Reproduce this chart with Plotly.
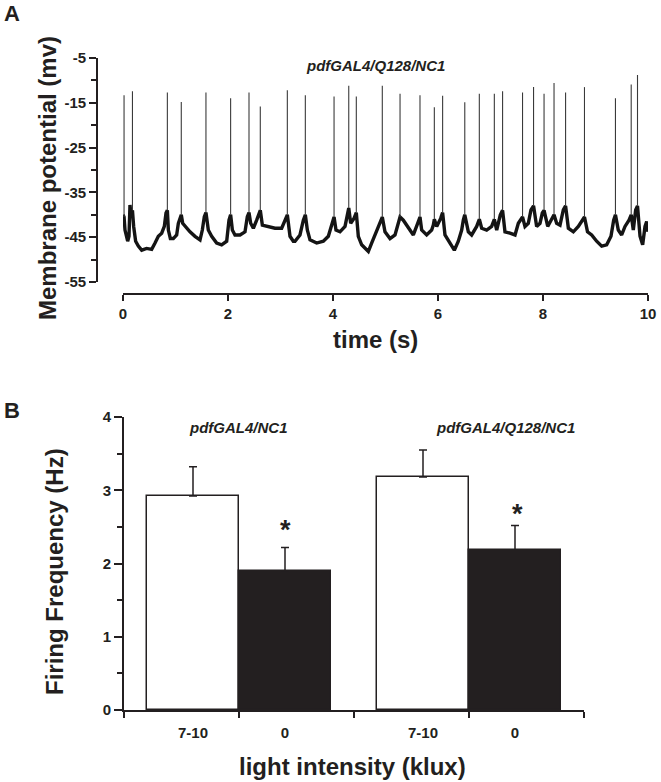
import plotly.graph_objects as go

W, H = 661, 782
FONT = "Arial, Liberation Sans, sans-serif"
INK = "#231f20"

# ---------------- Panel A : membrane potential trace ----------------
spike_t = [0.02, 0.18, 0.845, 1.11, 1.58, 2.05, 2.40, 2.615, 3.13, 3.473,
           4.02, 4.30, 4.444, 4.939, 5.277, 5.657, 5.93, 6.088, 6.51, 6.787,
           7.073, 7.23, 7.61, 7.82, 8.02, 8.21, 8.43, 8.79, 9.38, 9.68, 9.80]
spike_peak = [-13.3, -12.4, -12.7, -14.8, -12.7, -14.0, -12.7, -15.8, -12.2, -13.3,
              -13.6, -11.2, -13.6, -11.2, -13.0, -13.3, -16.0, -13.4, -14.9, -13.0,
              -13.0, -12.4, -12.7, -11.5, -13.0, -10.6, -12.7, -11.5, -14.0, -10.9, -8.8]
spike_foot = [-40.5, -39.0, -39.0, -40.0, -39.5, -40.0, -39.5, -39.0, -40.0, -40.0,
              -40.5, -38.5, -39.5, -40.5, -40.5, -40.5, -41.0, -39.5, -40.0, -41.0,
              -41.0, -39.0, -40.5, -38.0, -39.0, -40.0, -38.0, -40.5, -40.0, -40.0, -38.0]

base_t = [0.0, 0.038, 0.089, 0.114, 0.133, 0.152, 0.203, 0.241, 0.292, 0.356,
          0.45, 0.546, 0.61, 0.673, 0.737, 0.787, 0.819, 0.864, 0.902, 0.959,
          1.022, 1.054, 1.086, 1.137, 1.181, 1.276, 1.371, 1.467, 1.511, 1.549,
          1.625, 1.689, 1.784, 1.879, 1.975, 2.019, 2.083, 2.133, 2.229, 2.324,
          2.368, 2.432, 2.483, 2.546, 2.578, 2.654, 2.768, 2.895, 3.022, 3.086,
          3.181, 3.244, 3.276, 3.371, 3.435, 3.511, 3.562, 3.689, 3.816, 3.911,
          3.975, 4.057, 4.133, 4.229, 4.273, 4.337, 4.40, 4.482, 4.546, 4.609,
          4.673, 4.736, 4.819, 4.882, 4.99, 5.086, 5.181, 5.244, 5.339, 5.435,
          5.53, 5.613, 5.689, 5.784, 5.879, 5.911, 5.975, 6.051, 6.133, 6.229,
          6.311, 6.387, 6.451, 6.482, 6.578, 6.641, 6.737, 6.832, 6.927, 7.022,
          7.118, 7.187, 7.276, 7.371, 7.467, 7.53, 7.657, 7.72, 7.771, 7.879,
          7.943, 7.987, 8.09, 8.165, 8.26, 8.324, 8.387, 8.483, 8.578, 8.673,
          8.737, 8.848, 8.927, 9.022, 9.118, 9.213, 9.295, 9.346, 9.434, 9.498,
          9.562, 9.638, 9.72, 9.765, 9.848, 9.898, 9.943, 9.975, 10.0]
base_v = [-40.0, -43.4, -45.9, -44.8, -37.8, -40.0, -42.6, -45.9, -47.0, -47.9,
          -47.5, -47.7, -46.3, -44.8, -44.1, -42.6, -39.6, -43.4, -45.3, -45.3,
          -44.5, -41.9, -40.8, -41.9, -42.6, -43.8, -44.8, -45.6, -43.4, -40.4,
          -43.4, -44.8, -46.3, -46.7, -45.9, -41.2, -43.4, -44.5, -44.5, -43.8,
          -40.4, -41.9, -43.0, -41.2, -40.0, -42.3, -42.6, -43.0, -43.0, -41.2,
          -44.8, -45.9, -45.9, -44.5, -41.2, -43.4, -45.6, -46.3, -45.9, -44.8,
          -41.9, -43.4, -43.8, -42.6, -39.6, -41.9, -40.8, -44.8, -46.7, -47.5,
          -48.2, -46.3, -43.8, -41.9, -43.8, -45.3, -44.5, -41.9, -41.2, -43.0,
          -44.5, -41.9, -43.4, -44.5, -43.4, -42.3, -42.6, -40.8, -44.5, -46.3,
          -47.9, -45.9, -43.4, -41.2, -43.8, -44.5, -42.6, -43.0, -43.4, -42.6,
          -43.4, -40.0, -43.8, -44.1, -44.5, -41.9, -42.6, -41.9, -38.9, -42.6,
          -41.9, -39.6, -42.6, -41.2, -41.9, -42.3, -38.9, -43.0, -43.8, -42.6,
          -41.5, -43.8, -44.5, -45.9, -47.0, -46.7, -44.8, -41.2, -43.4, -44.5,
          -42.6, -41.2, -43.4, -38.9, -44.8, -46.7, -42.6, -41.5, -43.8]

y_ticks_a = [-55, -45, -35, -25, -15, -5]
x_ticks_a = [0, 2, 4, 6, 8, 10]

# ---------------- Panel B : firing frequency bars ----------------
groups = ["pdfGAL4/NC1", "pdfGAL4/Q128/NC1"]
light_labels = ["7-10", "0", "7-10", "0"]
freq = [2.92, 1.90, 3.18, 2.18]
freq_sem = [0.40, 0.32, 0.37, 0.34]
y_ticks_b = [0, 1, 2, 3, 4]


def px(x):
    return x / W


def py(y):
    return 1 - y / H


def bold(vals):
    return ["<b>%s</b>" % v for v in vals]


# merge spike feet into the baseline
pts = sorted(list(zip(base_t, base_v)) + list(zip(spike_t, spike_foot)))
trace_t = [p[0] for p in pts]
trace_v = [p[1] for p in pts]

sp_x, sp_y = [], []
for t, f, p in zip(spike_t, spike_foot, spike_peak):
    sp_x += [t, t, None]
    sp_y += [f, p, None]

fig = go.Figure()
fig.add_trace(go.Scatter(x=trace_t, y=trace_v, mode="lines",
                         line=dict(color="#141414", width=3.4),
                         xaxis="x", yaxis="y", showlegend=False, hoverinfo="skip"))
fig.add_trace(go.Scatter(x=sp_x, y=sp_y, mode="lines",
                         line=dict(color="#3a3a3a", width=1.1),
                         xaxis="x", yaxis="y", showlegend=False, hoverinfo="skip"))

# bar positions: two groups, two adjacent bars each
bar_w = 0.8
bar_x = []
for g in range(len(groups)):
    for j in range(2):
        bar_x.append(2 * g + 0.2 + bar_w * j + bar_w / 2)
fig.add_trace(go.Bar(
    x=bar_x, y=freq, width=bar_w,
    marker=dict(color=["white", INK, "white", INK], line=dict(color=INK, width=1.5)),
    error_y=dict(type="data", array=freq_sem, arrayminus=[0] * len(freq), symmetric=False,
                 color=INK, thickness=1.5, width=4),
    xaxis="x2", yaxis="y2", showlegend=False, hoverinfo="skip"))

tickfont = dict(family=FONT, size=15, color=INK)
axcommon = dict(showline=True, linecolor=INK, linewidth=1.8, showgrid=False,
                zeroline=False, ticks="outside", tickcolor=INK, tickwidth=1.6,
                tickfont=tickfont, automargin=False)

fig.update_layout(
    width=W, height=H,
    margin=dict(l=0, r=0, t=0, b=0, autoexpand=False),
    paper_bgcolor="white", plot_bgcolor="white",
    bargap=0,
    xaxis=dict(axcommon, domain=[px(123), px(648)], range=[0, 10],
               anchor="free", position=py(294),
               tickmode="array", tickvals=x_ticks_a, ticktext=bold(x_ticks_a), ticklen=6),
    yaxis=dict(axcommon, domain=[py(282), py(58)], range=[-55, -5],
               anchor="free", position=px(97),
               tickmode="array", tickvals=y_ticks_a, ticktext=bold(y_ticks_a), ticklen=7,
               minor=dict(tickmode="linear", tick0=-55, dtick=5, ticks="outside",
                          ticklen=5, tickcolor=INK, tickwidth=1.6)),
    xaxis2=dict(axcommon, domain=[px(124), px(584)], range=[0, 4], anchor="y2",
                tickmode="array", tickvals=bar_x, ticktext=bold(light_labels),
                ticklen=8, tickcolor="rgba(0,0,0,0)",
                minor=dict(tickmode="linear", tick0=0, dtick=1, ticks="outside",
                           ticklen=6, tickcolor=INK, tickwidth=1.6)),
    yaxis2=dict(axcommon, domain=[py(710), py(417)], range=[0, 4], anchor="x2",
                tickmode="array", tickvals=y_ticks_b, ticktext=bold(y_ticks_b), ticklen=8,
                minor=dict(tickmode="linear", tick0=0, dtick=0.5, ticks="outside",
                           ticklen=5, tickcolor=INK, tickwidth=1.6)),
)

title_font = dict(family=FONT, size=24, color=INK)
label_font = dict(family=FONT, size=15, color=INK)
letter_font = dict(family=FONT, size=22, color=INK)

ann = [
    dict(text="<b>A</b>", x=px(12), y=py(14), font=letter_font),
    dict(text="<b>B</b>", x=px(12), y=py(410), font=letter_font),
    dict(text="<b>Membrane potential (mv)</b>", x=px(47), y=py(178), textangle=-90, font=title_font),
    dict(text="<b>time (s)</b>", x=px(375), y=py(339), font=title_font),
    dict(text="<b><i>pdfGAL4/Q128/NC1</i></b>", x=px(375), y=py(65), font=label_font),
    dict(text="<b>Firing Frequency (Hz)</b>", x=px(54), y=py(572), textangle=-90, font=title_font),
    dict(text="<b>light intensity (klux)</b>", x=px(352), y=py(766), font=title_font),
    dict(text="<b><i>%s</i></b>" % groups[0], x=px(238), y=py(427), font=label_font),
    dict(text="<b><i>%s</i></b>" % groups[1], x=px(505), y=py(427), font=label_font),
    dict(text="<b>*</b>", x=px(285), y=py(530), font=dict(family=FONT, size=27, color=INK)),
    dict(text="<b>*</b>", x=px(517), y=py(514), font=dict(family=FONT, size=27, color=INK)),
]
for a in ann:
    a.update(xref="paper", yref="paper", showarrow=False, xanchor="center", yanchor="middle")
fig.update_layout(annotations=ann)

fig.write_html("out.html", config={"displayModeBar": False},
               post_script="document.body.style.margin='0';document.body.style.overflow='hidden';")
